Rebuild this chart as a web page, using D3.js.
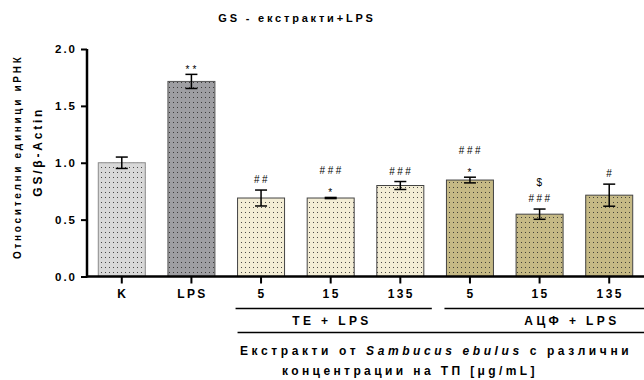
<!DOCTYPE html>
<html>
<head>
<meta charset="utf-8">
<script src="https://cdn.jsdelivr.net/npm/d3@7"></script>
<style>
  body { margin: 0; background: #fff; }
  svg { display: block; }
  text { font-family: "Liberation Sans", Arial, sans-serif; fill: #000; }
</style>
</head>
<body>
<div id="chart"></div>
<script>
/* DATA */
const categories = ["K", "LPS", "TE5", "TE15", "TE135", "AC5", "AC15", "AC135"];
const tickLabels = ["K", "LPS", "5", "15", "135", "5", "15", "135"];
const means = [1.0, 1.715, 0.69, 0.69, 0.80, 0.848, 0.548, 0.715];
const errors = [0.05, 0.062, 0.07, 0.005, 0.035, 0.025, 0.045, 0.097];
const groups = ["ctrl", "lps", "te", "te", "te", "ac", "ac", "ac"];
// significance marks, listed from the bar upward
const marks = [[], ["**"], ["##"], ["*", "###"], ["###"], ["*", "###"], ["###", "$"], ["#"]];
const yTicks = [0.0, 0.5, 1.0, 1.5, 2.0];

/* CONSTANTS */
const width = 644,
  height = 380,
  margin = { top: 49, left: 87, right: 0, bottom: 103.5 };

const fills = { ctrl: "#d8d8d8", lps: "#9e9ea2", te: "#f3edd5", ac: "#c5b985" };
const strokes = { ctrl: "#8a8a8a", lps: "#555", te: "#444", ac: "#444" };

const svg = d3.select("#chart").append("svg")
  .attr("width", width)
  .attr("height", height);

// dotted patterns for each group
const defs = svg.append("defs");
Object.keys(fills).forEach(k => {
  const p = defs.append("pattern")
    .attr("id", "pat-" + k)
    .attr("patternUnits", "userSpaceOnUse")
    .attr("width", 4).attr("height", 5);
  p.append("rect").attr("width", 4).attr("height", 5).attr("fill", fills[k]);
  p.append("rect").attr("x", 1).attr("y", 2).attr("width", 1).attr("height", 1)
    .attr("fill", "#222").attr("opacity", 0.8);
});

/* SCALES */
const x = d3.scaleBand()
  .domain(categories)
  .range([margin.left, width - margin.right])
  .paddingInner(0.325)
  .paddingOuter(0.162);

const y = d3.scaleLinear()
  .domain([0, 2])
  .range([height - margin.bottom, margin.top]);

/* BARS */
svg.selectAll("rect.bar")
  .data(categories)
  .join("rect")
  .attr("class", "bar")
  .attr("x", d => x(d))
  .attr("y", (d, i) => y(means[i]))
  .attr("width", x.bandwidth())
  .attr("height", (d, i) => y(0) - y(means[i]))
  .attr("fill", (d, i) => `url(#pat-${groups[i]})`)
  .attr("stroke", (d, i) => strokes[groups[i]])
  .attr("stroke-width", 1);

/* ERROR BARS */
const eb = svg.selectAll("g.err")
  .data(categories)
  .join("g")
  .attr("class", "err")
  .attr("stroke", "#000")
  .attr("stroke-width", 1.5);

eb.append("line")
  .attr("x1", d => x(d) + x.bandwidth() / 2)
  .attr("x2", d => x(d) + x.bandwidth() / 2)
  .attr("y1", (d, i) => y(means[i] - errors[i]))
  .attr("y2", (d, i) => y(means[i] + errors[i]));

[-1, 1].forEach(s => {
  eb.append("line")
    .attr("x1", d => x(d) + x.bandwidth() / 2 - 6)
    .attr("x2", d => x(d) + x.bandwidth() / 2 + 6)
    .attr("y1", (d, i) => y(means[i] + s * errors[i]))
    .attr("y2", (d, i) => y(means[i] + s * errors[i]));
});

/* SIGNIFICANCE MARKS */
categories.forEach((c, i) => {
  marks[i].forEach((m, j) => {
    const isStar = m.indexOf("*") >= 0;
    svg.append("text")
      .attr("x", x(c) + x.bandwidth() / 2 + 1)
      .attr("y", y(means[i] + errors[i]) - (isStar ? 1 : 7) - j * 16)
      .attr("text-anchor", "middle")
      .attr("font-size", 10)
      .attr("letter-spacing", isStar ? 3 : 2.5)
      .attr("fill", "#222")
      .text(m);
  });
});

/* AXES */
const yAxis = d3.axisLeft(y).tickValues(yTicks).tickFormat(d3.format(".1f")).tickSize(6);
const gy = svg.append("g")
  .attr("transform", `translate(${margin.left},0)`)
  .call(yAxis);
gy.select(".domain").attr("stroke-width", 2.5).attr("d", `M0,${y(0) + 1}V${margin.top}`);
gy.selectAll(".tick line").attr("stroke-width", 2);
gy.selectAll(".tick text")
  .attr("x", -10)
  .attr("font-size", 11.5)
  .attr("font-weight", "bold")
  .attr("letter-spacing", 2)
  .style("font-family", "Liberation Sans, Arial, sans-serif");

const xAxis = d3.axisBottom(x).tickFormat((d, i) => tickLabels[i]).tickSize(7).tickSizeOuter(0);
const gx = svg.append("g")
  .attr("transform", `translate(0,${y(0)})`)
  .call(xAxis);
gx.select(".domain").attr("stroke-width", 2.5).attr("d", `M${margin.left - 1},0H${width}`);
gx.selectAll(".tick line").attr("stroke-width", 2);
gx.selectAll(".tick text")
  .attr("y", 21.5)
  .attr("dy", 0)
  .attr("dx", 1)
  .attr("font-size", 12)
  .attr("font-weight", "bold")
  .attr("letter-spacing", 2.4)
  .style("font-family", "Liberation Sans, Arial, sans-serif");

/* GROUP BRACKETS */
const teLeft = x("TE5") - 2, teRight = x("TE135") + x.bandwidth() + 8;
const acLeft = x("AC5") - 2;
svg.append("line").attr("x1", teLeft).attr("x2", teRight)
  .attr("y1", 308.5).attr("y2", 308.5).attr("stroke", "#000").attr("stroke-width", 1.5);
svg.append("line").attr("x1", acLeft).attr("x2", width)
  .attr("y1", 308.5).attr("y2", 308.5).attr("stroke", "#000").attr("stroke-width", 1.5);
svg.append("line").attr("x1", teLeft + 2).attr("x2", width)
  .attr("y1", 332.5).attr("y2", 332.5).attr("stroke", "#000").attr("stroke-width", 1.5);

const subLabel = (tx, ty, str) => svg.append("text")
  .attr("x", tx).attr("y", ty)
  .attr("text-anchor", "middle")
  .attr("font-size", 12)
  .attr("font-weight", "bold")
  .attr("letter-spacing", 3.4)
  .text(str);

subLabel(332, 324.5, "TE + LPS");
subLabel(572, 324.5, "АЦФ + LPS");

const l1 = svg.append("text")
  .attr("x", 240).attr("y", 355)
  .attr("font-size", 12)
  .attr("font-weight", "bold")
  .attr("letter-spacing", 3.6);
l1.append("tspan").text("Екстракти от ");
l1.append("tspan").attr("font-style", "italic").text("Sambucus ebulus");
l1.append("tspan").text(" с  различни");

svg.append("text")
  .attr("x", 410).attr("y", 375)
  .attr("text-anchor", "middle")
  .attr("font-size", 12)
  .attr("font-weight", "bold")
  .attr("letter-spacing", 3.4)
  .text("концентрации на ТП [μg/mL]");

/* TITLE */
svg.append("text")
  .attr("x", 297).attr("y", 22)
  .attr("text-anchor", "middle")
  .attr("font-size", 11)
  .attr("font-weight", "bold")
  .attr("letter-spacing", 2.8)
  .text("GS - екстракти+LPS");

/* Y LABEL */
const yl = svg.append("g").attr("transform", `translate(0,${(y(0) + y(2)) / 2 - 6}) rotate(-90)`);
yl.append("text")
  .attr("x", 0).attr("y", 21)
  .attr("text-anchor", "middle")
  .attr("font-size", 10)
  .attr("font-weight", "bold")
  .attr("letter-spacing", 2.7)
  .text("Относителни единици иРНК");
yl.append("text")
  .attr("x", 5).attr("y", 42)
  .attr("text-anchor", "middle")
  .attr("font-size", 12)
  .attr("font-weight", "bold")
  .attr("letter-spacing", 2.8)
  .text("GS/β-Actin");
</script>
</body>
</html>
